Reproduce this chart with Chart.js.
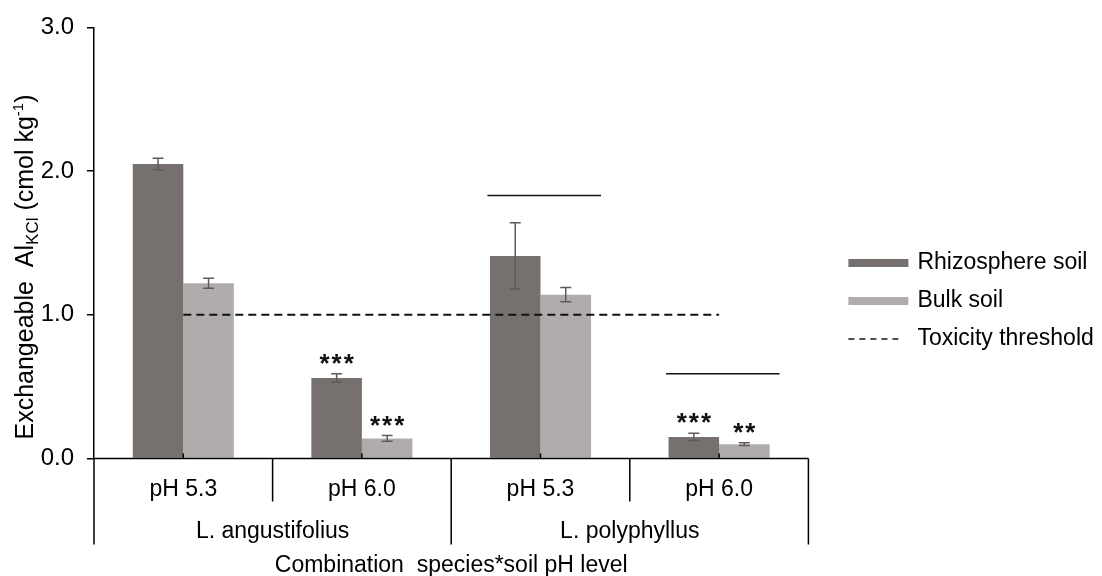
<html lang="en">
<head>
    <meta charset="UTF-8">
    <title>Exchangeable Al</title>
    <script src="https://cdn.jsdelivr.net/npm/chart.js"></script>
    <style>
        body {
            margin: 0;
            background: #ffffff;
        }
        #wrap {
            position: relative;
            width: 1102px;
            height: 576px;
        }
    </style>
</head>
<body>
    <div id="wrap"><canvas id="alChart"></canvas></div>

    <script>
        // data
        const phLevels = ['pH 5.3', 'pH 6.0', 'pH 5.3', 'pH 6.0'];
        const species = ['L. angustifolius', 'L. polyphyllus'];
        const rhizosphere = [2.05, 0.56, 1.41, 0.15];
        const bulk = [1.22, 0.14, 1.14, 0.10];
        const rhizoErr = [0.04, 0.03, 0.23, 0.025];
        const bulkErr = [0.035, 0.02, 0.05, 0.01];
        const threshold = [1.0, 1.0, 1.0, 1.0];
        const rhizoSig = ['', '***', '', '***'];
        const bulkSig = ['', '***', '', '**'];
        const bracketLevel = [null, null, 1.83, 0.59];
        const yTicks = [0, 1, 2, 3];

        const FONT = "'Liberation Sans', Arial, sans-serif";

        // error bars, stars, brackets, axis decoration and legend
        const decor = {
            id: 'decor',
            afterDatasetsDraw(chart) {
                const ctx = chart.ctx;
                const a = chart.chartArea;
                const y = chart.scales.y;
                const x = chart.scales.x;
                const rMeta = chart.getDatasetMeta(0);
                const bMeta = chart.getDatasetMeta(1);

                ctx.save();

                // error bars
                ctx.strokeStyle = '#5e5a59';
                ctx.lineWidth = 1.5;
                [[rMeta, rhizosphere, rhizoErr], [bMeta, bulk, bulkErr]].forEach(([meta, vals, errs]) => {
                    meta.data.forEach((bar, j) => {
                        const top = y.getPixelForValue(vals[j] + errs[j]);
                        const bot = y.getPixelForValue(vals[j] - errs[j]);
                        ctx.beginPath();
                        ctx.moveTo(bar.x, top); ctx.lineTo(bar.x, bot);
                        ctx.moveTo(bar.x - 5.5, top); ctx.lineTo(bar.x + 5.5, top);
                        ctx.moveTo(bar.x - 5.5, bot); ctx.lineTo(bar.x + 5.5, bot);
                        ctx.stroke();
                    });
                });

                // significance stars
                ctx.fillStyle = '#111';
                ctx.font = 'bold 26px ' + FONT;
                ctx.letterSpacing = '2px';
                ctx.textAlign = 'center';
                ctx.textBaseline = 'alphabetic';
                [[rMeta, rhizosphere, rhizoErr, rhizoSig], [bMeta, bulk, bulkErr, bulkSig]].forEach(([meta, vals, errs, sig]) => {
                    meta.data.forEach((bar, j) => {
                        if (!sig[j]) return;
                        const top = y.getPixelForValue(vals[j] + errs[j]);
                        ctx.fillText(sig[j], bar.x + 1, top - 16 + 14);
                    });
                });
                ctx.letterSpacing = '0px';

                // bracket lines over pH groups
                ctx.strokeStyle = '#111';
                ctx.lineWidth = 1.5;
                bracketLevel.forEach((lv, j) => {
                    if (lv === null) return;
                    const r = rMeta.data[j], b = bMeta.data[j];
                    const py = y.getPixelForValue(lv);
                    ctx.beginPath();
                    ctx.moveTo(r.x - r.width / 2 - 2.5, py);
                    ctx.lineTo(b.x + b.width / 2 + 10, py);
                    ctx.stroke();
                });

                // x axis: base line, small centre ticks, dividers, labels
                const half = (x.getPixelForValue(1) - x.getPixelForValue(0)) / 2;
                const base = a.bottom;
                ctx.strokeStyle = '#000';
                ctx.lineWidth = 1.5;
                ctx.beginPath();
                ctx.moveTo(a.left, base); ctx.lineTo(a.right, base);
                phLevels.forEach((p, j) => {
                    const cx = x.getPixelForValue(j);
                    ctx.moveTo(cx, base); ctx.lineTo(cx, base - 5);
                });
                // pH dividers inside each species
                for (let j = 1; j < phLevels.length; j += 2) {
                    const bx = x.getPixelForValue(j) - half;
                    ctx.moveTo(bx, base); ctx.lineTo(bx, base + 43);
                }
                // species dividers
                for (let j = 0; j <= phLevels.length; j += 2) {
                    const bx = x.getPixelForValue(0) - half + j * half * 2;
                    ctx.moveTo(bx, base); ctx.lineTo(bx, base + 86);
                }
                ctx.stroke();

                ctx.fillStyle = '#000';
                ctx.font = '23px ' + FONT;
                ctx.textAlign = 'center';
                ctx.textBaseline = 'middle';
                phLevels.forEach((p, j) => {
                    ctx.fillText(p, x.getPixelForValue(j), base + 31);
                });
                species.forEach((s, k) => {
                    const cx = (x.getPixelForValue(2 * k) + x.getPixelForValue(2 * k + 1)) / 2;
                    ctx.fillText(s, cx, base + 73);
                });
                ctx.fillText('Combination  species*soil pH level', (a.left + a.right) / 2, base + 107);

                // y axis title with subscript and superscript
                const parts = [
                    { t: 'Exchangeable  Al', f: 25, dy: 0 },
                    { t: 'KCl', f: 17, dy: 5 },
                    { t: ' (cmol kg', f: 25, dy: 0 },
                    { t: '-1', f: 15, dy: -10 },
                    { t: ')', f: 25, dy: 0 }
                ];
                let total = 0;
                parts.forEach(p => { ctx.font = p.f + 'px ' + FONT; p.w = ctx.measureText(p.t).width; total += p.w; });
                ctx.translate(33, 267);
                ctx.rotate(-Math.PI / 2);
                ctx.textAlign = 'left';
                ctx.textBaseline = 'alphabetic';
                let tx = -total / 2;
                parts.forEach(p => {
                    ctx.font = p.f + 'px ' + FONT;
                    ctx.fillText(p.t, tx, p.dy);
                    tx += p.w;
                });
                ctx.setTransform(1, 0, 0, 1, 0, 0);

                // legend
                const lx = a.right + 40;
                const rows = [263, 301, 339];
                chart.data.datasets.forEach((ds, i) => {
                    const ly = rows[i];
                    if (ds.type === 'line') {
                        ctx.strokeStyle = ds.borderColor;
                        ctx.lineWidth = 1.5;
                        ctx.setLineDash([6, 5]);
                        ctx.beginPath();
                        ctx.moveTo(lx, ly); ctx.lineTo(lx + 50, ly);
                        ctx.stroke();
                        ctx.setLineDash([]);
                    } else {
                        ctx.fillStyle = ds.backgroundColor;
                        ctx.fillRect(lx, ly - 4, 60, 8);
                    }
                    ctx.fillStyle = '#000';
                    ctx.font = '23px ' + FONT;
                    ctx.textAlign = 'left';
                    ctx.textBaseline = 'middle';
                    ctx.fillText(ds.label, lx + 69, ly);
                });

                ctx.restore();
            }
        };

        const ctx = document.getElementById('alChart').getContext('2d');
        new Chart(ctx, {
            type: 'bar',
            data: {
                labels: phLevels,
                datasets: [
                    {
                        label: 'Rhizosphere soil',
                        data: rhizosphere,
                        backgroundColor: '#76716f',
                        categoryPercentage: 0.566,
                        barPercentage: 1.0,
                        order: 1
                    },
                    {
                        label: 'Bulk soil',
                        data: bulk,
                        backgroundColor: '#b0acab',
                        categoryPercentage: 0.566,
                        barPercentage: 1.0,
                        order: 1
                    },
                    {
                        type: 'line',
                        label: 'Toxicity threshold',
                        data: threshold,
                        borderColor: '#111',
                        borderWidth: 2,
                        borderDash: [8, 5],
                        pointRadius: 0,
                        fill: false,
                        order: 0
                    }
                ]
            },
            options: {
                responsive: true,
                maintainAspectRatio: false,
                animation: false,
                layout: {
                    padding: { left: 0, right: 293.6, top: 24, bottom: 117.5 }
                },
                plugins: {
                    legend: { display: false },
                    tooltip: { enabled: false }
                },
                scales: {
                    x: {
                        display: false,
                        offset: true,
                        grid: { display: false }
                    },
                    y: {
                        min: 0,
                        max: 3,
                        afterFit(scale) { scale.width = 94; },
                        afterBuildTicks(scale) { scale.ticks = yTicks.map(v => ({ value: v })); },
                        border: { color: '#000', width: 1.5 },
                        grid: {
                            drawOnChartArea: false,
                            tickLength: 7,
                            color: '#000',
                            lineWidth: 1.5
                        },
                        ticks: {
                            padding: 13,
                            color: '#000',
                            font: { family: FONT, size: 24 },
                            callback: v => v.toFixed(1)
                        }
                    }
                }
            },
            plugins: [decor]
        });
    </script>
</body>
</html>
